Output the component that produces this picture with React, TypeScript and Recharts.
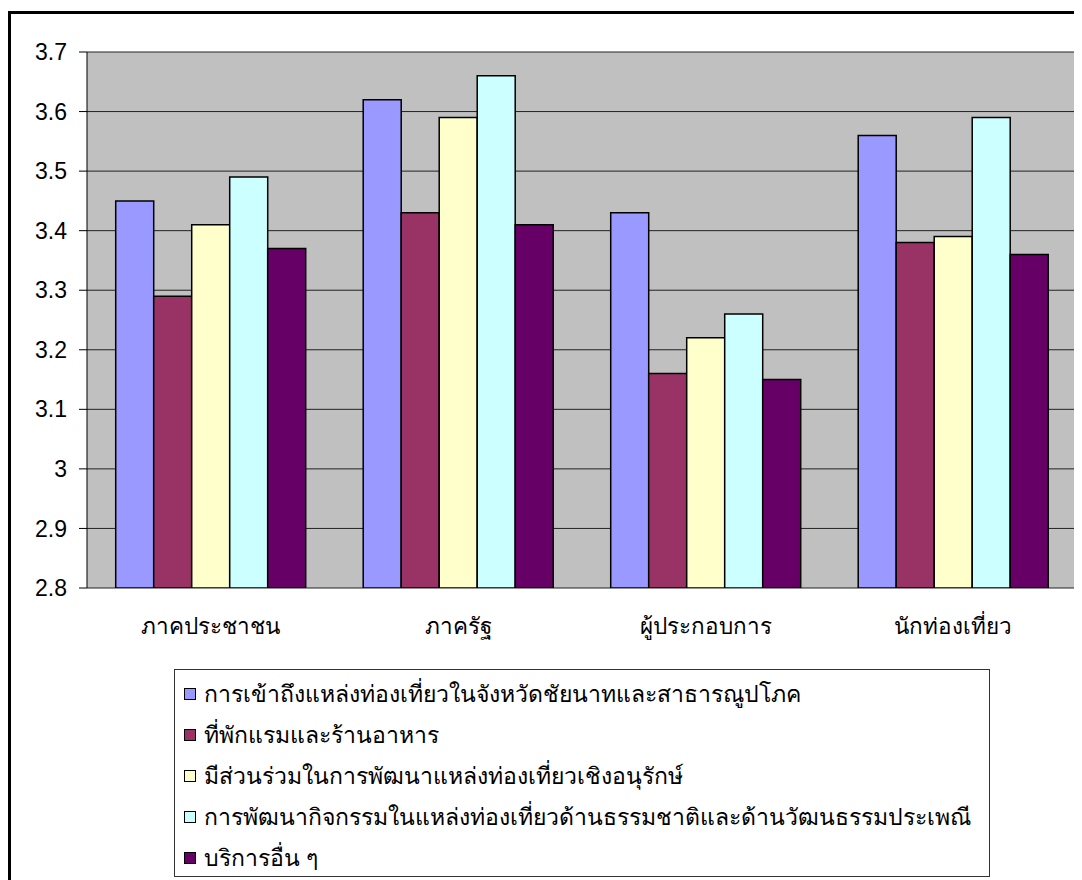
import React from 'react';
import {
    BarChart,
    Bar,
    XAxis,
    YAxis,
    CartesianGrid,
} from 'recharts';

const categories = ['ภาคประชาชน', 'ภาครัฐ', 'ผู้ประกอบการ', 'นักท่องเที่ยว'];

const seriesNames = [
    'การเข้าถึงแหล่งท่องเที่ยวในจังหวัดชัยนาทและสาธารณูปโภค',
    'ที่พักแรมและร้านอาหาร',
    'มีส่วนร่วมในการพัฒนาแหล่งท่องเที่ยวเชิงอนุรักษ์',
    'การพัฒนากิจกรรมในแหล่งท่องเที่ยวด้านธรรมชาติและด้านวัฒนธรรมประเพณี',
    'บริการอื่น ๆ',
];

const seriesColors = ['#9999FF', '#993366', '#FFFFCC', '#CCFFFF', '#660066'];

const access = [3.45, 3.62, 3.43, 3.56];
const lodging = [3.29, 3.43, 3.16, 3.38];
const participation = [3.41, 3.59, 3.22, 3.39];
const activities = [3.49, 3.66, 3.26, 3.59];
const otherServices = [3.37, 3.41, 3.15, 3.36];

const yTicks = [2.8, 2.9, 3, 3.1, 3.2, 3.3, 3.4, 3.5, 3.6, 3.7];
const boundaryTicks = [0, 1, 2, 3, 4];

const allSeries = [access, lodging, participation, activities, otherServices];

const data = categories.map((name, i) => {
    const row: Record<string, string | number> = { name };
    allSeries.forEach((values, s) => {
        row[`s${s}`] = values[i];
    });
    return row;
});

const FONT = '"Liberation Sans", Arial, sans-serif';

// legend drawn as a plain box under the chart, like the excel one
const LegendBox = () => (
    <div
        style={{
            position: 'absolute',
            left: 174,
            top: 669,
            width: 816,
            height: 208,
            border: '1px solid #333',
            background: '#fff',
            boxSizing: 'border-box',
            padding: '3px 0 0 9px',
            fontFamily: FONT,
            fontSize: 23,
            color: '#000',
        }}
    >
        {seriesNames.map((name, i) => (
            <div
                key={name}
                style={{ display: 'flex', alignItems: 'center', height: 41, whiteSpace: 'nowrap' }}
            >
                <span
                    style={{
                        display: 'inline-block',
                        flex: 'none',
                        width: 10,
                        height: 10,
                        border: '1.5px solid #000',
                        background: seriesColors[i],
                        marginRight: 8,
                    }}
                />
                <span>{name}</span>
            </div>
        ))}
    </div>
);

const App: React.FC = () => {
    return (
        <div
            style={{
                position: 'relative',
                width: 1082,
                height: 880,
                margin: '-8px 0 0 -8px',
                overflow: 'hidden',
                background: '#fff',
            }}
        >
            {/* outer frame */}
            <div
                style={{
                    position: 'absolute',
                    left: 8,
                    top: 11,
                    width: 1120,
                    height: 920,
                    border: '3px solid #000',
                }}
            />
            <div style={{ position: 'absolute', left: 0, top: 0 }}>
                <BarChart
                    width={1082}
                    height={880}
                    data={data}
                    margin={{ top: 52, right: 5, left: 0, bottom: 232 }}
                    barCategoryGap="11.6%"
                    barGap={0}
                >
                    <CartesianGrid
                        vertical={false}
                        fill="#C0C0C0"
                        stroke="#222"
                        strokeOpacity={1}
                        yAxisId="left"
                    />

                    {/* boundary ticks between categories */}
                    <XAxis
                        xAxisId="bounds"
                        type="number"
                        domain={[0, 4]}
                        ticks={boundaryTicks}
                        tick={false}
                        tickSize={8}
                        height={0}
                        axisLine={{ stroke: '#000' }}
                        tickLine={{ stroke: '#000' }}
                    />
                    <XAxis
                        xAxisId="cat"
                        dataKey="name"
                        axisLine={false}
                        tickLine={false}
                        tickMargin={24}
                        height={60}
                        tick={{ fill: '#000', fontSize: 22.5, fontFamily: FONT }}
                    />

                    <YAxis
                        yAxisId="left"
                        domain={[2.8, 3.7]}
                        ticks={yTicks}
                        allowDataOverflow
                        width={87}
                        tickSize={8}
                        tickMargin={12}
                        axisLine={{ stroke: '#000' }}
                        tickLine={{ stroke: '#000' }}
                        tickFormatter={(v: number) => String(Math.round(v * 10) / 10)}
                        tick={{ fill: '#000', fontSize: 23, fontFamily: FONT }}
                    />
                    <YAxis
                        yAxisId="right"
                        orientation="right"
                        domain={[2.8, 3.7]}
                        width={0}
                        tick={false}
                        tickLine={false}
                        axisLine={{ stroke: '#808080', strokeWidth: 2 }}
                    />

                    {seriesNames.map((name, i) => (
                        <Bar
                            key={name}
                            name={name}
                            dataKey={`s${i}`}
                            xAxisId="cat"
                            yAxisId="left"
                            fill={seriesColors[i]}
                            stroke="#000"
                            strokeWidth={1.5}
                            isAnimationActive={false}
                        />
                    ))}
                </BarChart>
            </div>
            <LegendBox />
        </div>
    );
};

export default App;
